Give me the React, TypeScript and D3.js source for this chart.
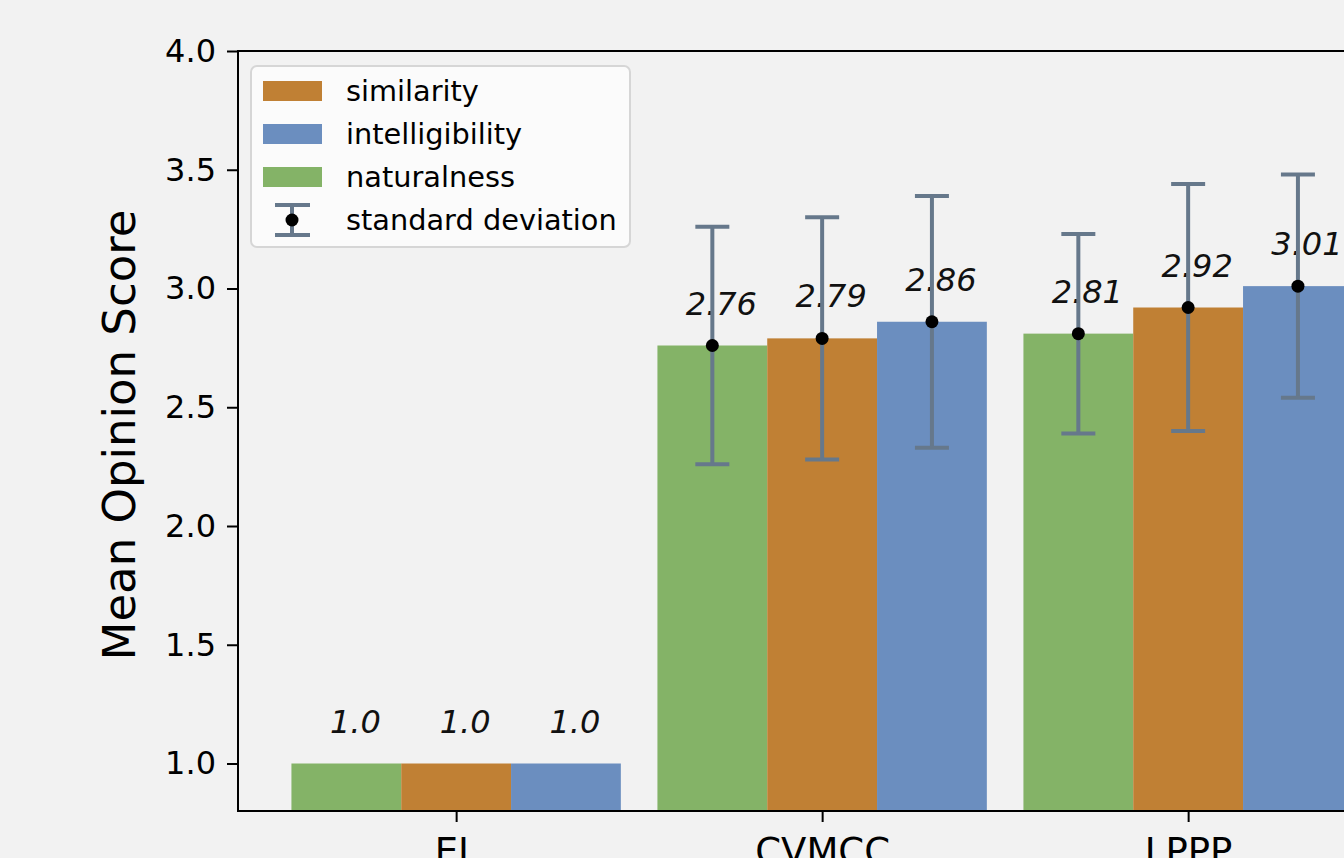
import { useEffect, useRef } from "react";
import * as d3 from "d3";

// categories on the x axis
const categories = ["EL", "CVMCC", "LPPP"];

// series, in the order they are drawn inside each group
const seriesNames = ["naturalness", "similarity", "intelligibility"];
const seriesColors = ["#84b367", "#c08034", "#6b8ebf"];

// mean scores per series (one value per category)
const naturalness = [1.0, 2.76, 2.81];
const similarity = [1.0, 2.79, 2.92];
const intelligibility = [1.0, 2.86, 3.01];

// standard deviations (null = no error bar drawn)
const naturalnessStd = [null, 0.5, 0.42];
const similarityStd = [null, 0.51, 0.52];
const intelligibilityStd = [null, 0.53, 0.47];

// value labels shown above the bars
const naturalnessLabels = ["1.0", "2.76", "2.81"];
const similarityLabels = ["1.0", "2.79", "2.92"];
const intelligibilityLabels = ["1.0", "2.86", "3.01"];

const yTicks = [1.0, 1.5, 2.0, 2.5, 3.0, 3.5, 4.0];
const legendOrder = ["similarity", "intelligibility", "naturalness"];

export default function App() {
    const ref = useRef<SVGSVGElement | null>(null);

    useEffect(() => {
        document.body.style.margin = "0";
        document.body.style.overflow = "hidden";

        const svg = d3.select(ref.current);
        svg.selectAll("*").remove();

        const font = "DejaVu Sans";
        const left = 238, top = 51, bottom = 811, right = 1400;
        const xUnit = 366; // px per category
        const xMin = -0.596;

        const x = d3.scaleLinear()
            .domain([xMin, xMin + (right - left) / xUnit])
            .range([left, right]);
        const y = d3.scaleLinear().domain([0.8, 4.0]).range([bottom, top]);

        const barW = 0.3;
        const values = [naturalness, similarity, intelligibility];
        const stds = [naturalnessStd, similarityStd, intelligibilityStd];
        const labels = [naturalnessLabels, similarityLabels, intelligibilityLabels];

        svg.append("rect").attr("width", 1344).attr("height", 858).attr("fill", "#f2f2f2");

        // bars
        values.forEach((vals, s) => {
            svg.append("g").selectAll("rect")
                .data(vals)
                .join("rect")
                .attr("x", (d, i) => x(i + (s - 1) * barW - barW / 2))
                .attr("width", x(barW) - x(0))
                .attr("y", d => y(d))
                .attr("height", d => y(0.8) - y(d))
                .attr("fill", seriesColors[s]);
        });

        // value labels
        values.forEach((vals, s) => {
            svg.append("g").selectAll("text")
                .data(vals)
                .join("text")
                .attr("x", (d, i) => x(i + (s - 1) * barW) + 9)
                .attr("y", d => y(d) - 31)
                .attr("text-anchor", "middle")
                .style("font-family", font)
                .style("font-style", "italic")
                .style("font-size", "32px")
                .style("fill", "#111")
                .text((d, i) => labels[s][i]);
        });

        // error bars
        const errColor = "#66788b";
        const capHalf = 17;
        values.forEach((vals, s) => {
            vals.forEach((v, i) => {
                const sd = stds[s][i];
                if (sd == null) return;
                const cx = x(i + (s - 1) * barW);
                const g = svg.append("g");
                g.append("line").attr("x1", cx).attr("x2", cx)
                    .attr("y1", y(v - sd)).attr("y2", y(v + sd))
                    .attr("stroke", errColor).attr("stroke-width", 4);
                [v - sd, v + sd].forEach(e => {
                    g.append("line").attr("x1", cx - capHalf).attr("x2", cx + capHalf)
                        .attr("y1", y(e)).attr("y2", y(e))
                        .attr("stroke", errColor).attr("stroke-width", 4);
                });
                g.append("circle").attr("cx", cx).attr("cy", y(v)).attr("r", 6.5).attr("fill", "#000");
            });
        });

        // y axis
        svg.append("g")
            .attr("transform", `translate(${left},0)`)
            .call(d3.axisLeft(y).tickValues(yTicks).tickFormat(d3.format(".1f")).tickSize(11).tickPadding(11))
            .call(g => g.select(".domain").remove())
            .call(g => g.selectAll("line").attr("stroke", "#000").attr("stroke-width", 2))
            .call(g => g.selectAll("text").attr("fill", "#000")
                .style("font-family", font).style("font-size", "32px"));

        // x axis (labels run off the bottom edge, as in the source image)
        svg.append("g")
            .attr("transform", `translate(0,${bottom})`)
            .call(d3.axisBottom(x).tickValues(categories.map((c, i) => i))
                .tickFormat((d, i) => categories[i]).tickSize(11).tickPadding(16))
            .call(g => g.select(".domain").remove())
            .call(g => g.selectAll("line").attr("stroke", "#000").attr("stroke-width", 2))
            .call(g => g.selectAll("text").attr("fill", "#000")
                .style("font-family", font).style("font-size", "37px"));

        // spines
        svg.append("path")
            .attr("d", `M${right},${top}H${left}V${bottom}H${right}`)
            .attr("fill", "none").attr("stroke", "#000").attr("stroke-width", 2);

        // y axis label
        svg.append("text")
            .attr("transform", `translate(135,${(top + bottom) / 2 + 4}) rotate(-90)`)
            .attr("text-anchor", "middle")
            .style("font-family", font)
            .style("font-size", "45px")
            .style("fill", "#000")
            .text("Mean Opinion Score");

        // legend
        const lg = svg.append("g");
        lg.append("rect")
            .attr("x", 251).attr("y", 66).attr("width", 379).attr("height", 181)
            .attr("rx", 6).attr("fill", "#fbfbfb").attr("stroke", "#d6d6d6").attr("stroke-width", 2);
        const rowY = (i: number) => 91 + i * 43;
        legendOrder.forEach((name, i) => {
            const s = seriesNames.indexOf(name);
            lg.append("rect").attr("x", 263).attr("y", rowY(i) - 10)
                .attr("width", 59).attr("height", 20).attr("fill", seriesColors[s]);
            lg.append("text").attr("x", 346).attr("y", rowY(i) + 10)
                .style("font-family", font).style("font-size", "28.8px").style("fill", "#000")
                .text(name);
        });
        const sy = rowY(3);
        lg.append("line").attr("x1", 292).attr("x2", 292).attr("y1", sy - 15).attr("y2", sy + 15)
            .attr("stroke", errColor).attr("stroke-width", 4);
        [sy - 15, sy + 15].forEach(e => {
            lg.append("line").attr("x1", 275).attr("x2", 310).attr("y1", e).attr("y2", e)
                .attr("stroke", errColor).attr("stroke-width", 4);
        });
        lg.append("circle").attr("cx", 292).attr("cy", sy).attr("r", 6.5).attr("fill", "#000");
        lg.append("text").attr("x", 346).attr("y", sy + 10)
            .style("font-family", font).style("font-size", "28.8px").style("fill", "#000")
            .text("standard deviation");
    }, []);

    return (
        <svg ref={ref} width={1344} height={858}
            style={{ position: "absolute", left: 0, top: 0, display: "block" }} />
    );
}
